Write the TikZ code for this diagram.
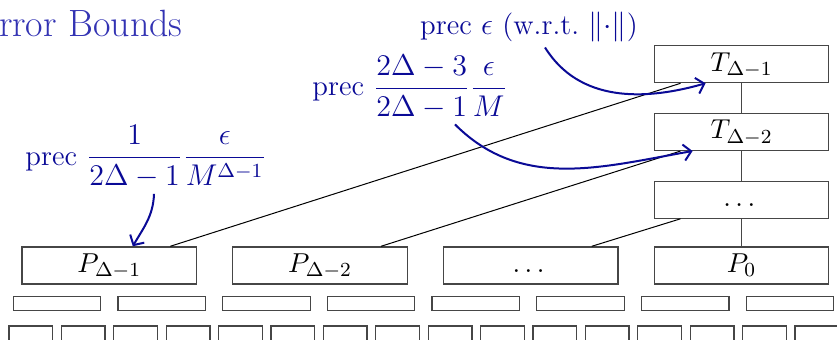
\documentclass[tikz,border=0pt]{standalone}
\usepackage{amsmath}
\definecolor{titleblue}{RGB}{51,51,179}
\definecolor{precblue}{RGB}{10,10,150}
\definecolor{boxgray}{RGB}{70,70,70}
\usetikzlibrary{positioning,arrows.meta}

\begin{document}
\begin{tikzpicture}[x=0.4pt,y=0.4pt,every node/.style={font=\fontsize{11}{13}\selectfont,align=center},
      pbox/.style={draw=boxgray,line width=0.5pt,minimum width=69.8pt,text height=7.5pt,text depth=2pt,inner sep=2.65pt},
      sbox/.style={draw=boxgray,line width=0.5pt,minimum width=35pt,minimum height=5.6pt,inner sep=0pt},
      tbox/.style={sbox,minimum width=17.5pt,minimum height=6.4pt},
      preclbl/.style={text=precblue,font=\fontsize{11.5}{14}\selectfont,inner sep=2pt},
      precarrow/.style={-{Straight Barb[length=3pt,width=6.5pt]},thick,precblue}]
    \useasboundingbox (0,0) rectangle (837,-339);
    \node[font=\fontsize{15.2}{18}\selectfont,text=titleblue,anchor=base east,inner sep=0pt] (title) at (183,-36.7) {Error Bounds};
    % partial products and tree
    \node[pbox] (P1) at (109.3,-265.4) {$P_{\Delta-1}$};
    \node[pbox,right=14pt of P1] (P2) {$P_{\Delta-2}$};
    \node[pbox,right=14pt of P2] (P3) {$\dots$};
    \node[pbox,right=14pt of P3] (P0) {$P_0$};
    \node[pbox,above=11pt of P0] (T3) {$\dots$};
    \node[pbox,above=11.8pt of T3] (T2) {$T_{\Delta-2}$};
    \node[pbox,above=11.8pt of T2] (T1) {$T_{\Delta-1}$};
    \draw[boxgray,line width=0.5pt] (T1) -- (T2) (T2) -- (T3) (T3) -- (P0);
    \draw ([xshift=24.4pt]P1.north) -- ([xshift=-24.4pt]T1.south);
    \draw ([xshift=24.4pt]P2.north) -- ([xshift=-24.4pt]T2.south);
    \draw ([xshift=24.4pt]P3.north) -- ([xshift=-24.4pt]T3.south);
    % lower levels
    \foreach \i in {0,...,7} \node[sbox] (s\i) at (57+104.7*\i,-303.3) {};
    \foreach \i in {0,...,15} \node[tbox] (t\i) at (30.8+52.4*\i,-334) {};
    % precision labels
    \node[preclbl] (eps) at (529,-27) {prec $\epsilon$ (w.r.t.\ $\|{\cdot}\|$)};
    \node[preclbl] (frac2) at (410,-87) {prec $\dfrac{2\Delta-3}{2\Delta-1}\dfrac{\epsilon}{M}$};
    \node[preclbl] (frac1) at (146,-157) {prec $\dfrac{1}{2\Delta-1}\dfrac{\epsilon}{M^{\Delta-1}}$};
    \draw[precarrow] ([xshift=6.4pt]eps.south) to[out=-58,in=196] ([xshift=-14.4pt]T1.south);
    \draw[precarrow] ([xshift=18pt]frac2.south) to[out=-45,in=190] ([xshift=-19.6pt]T2.south);
    \draw[precarrow] ([xshift=3.2pt]frac1.south) to[out=-92,in=60] ([xshift=9.4pt]P1.north);
  \end{tikzpicture}
\end{document}
